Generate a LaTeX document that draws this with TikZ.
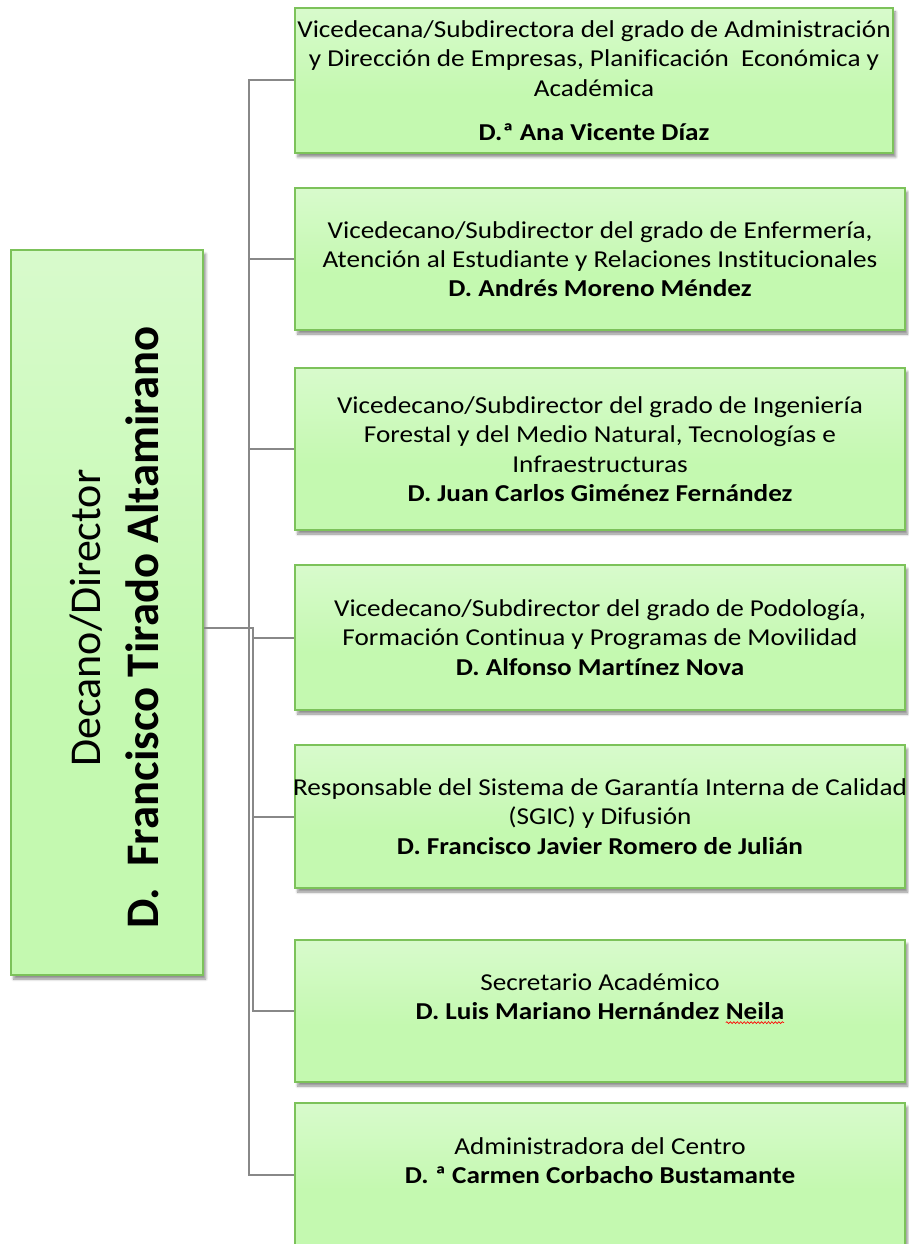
\documentclass[tikz,border=0pt]{standalone}
\usepackage{fontspec}
\setmainfont[Ligatures=NoCommon]{Carlito}
\newfontfamily\boxfont[Ligatures=NoCommon, FakeStretch=1.12]{Carlito}
\usetikzlibrary{shadows.blur,calc,decorations.pathmorphing}
\definecolor{gT}{HTML}{E8FBE3}
\definecolor{gB}{HTML}{C4F9B0}
\definecolor{gBorder}{HTML}{7CC25A}
\definecolor{lineg}{HTML}{888888}
\pgfdeclareverticalshading{boxshade}{100bp}{color(0bp)=(gB); color(45bp)=(gB); color(100bp)=(gT)}
\newcommand\spellerr[1]{\tikz[baseline=(w.base)]{\node[inner sep=0pt, outer sep=0pt, anchor=base] (w) at (0,0) {#1};
  \draw[red, line width=0.5pt, decorate, decoration={snake, amplitude=0.7pt, segment length=2.6pt}] ([yshift=-2.4pt]w.base west) -- ([yshift=-2.4pt]w.base east);}}
\begin{document}
\begin{tikzpicture}[x=0.75pt,y=-0.75pt,
  box/.style={draw=gBorder, line width=1.5pt, shading=boxshade, inner sep=0pt,
    blur shadow={shadow xshift=2pt, shadow yshift=-3pt, shadow blur steps=6, shadow opacity=45}},
  txt/.style={align=center, inner sep=0pt, font=\boxfont\fontsize{18.2}{22}\selectfont},
  conn/.style={draw=lineg, line width=1.5pt}]
\useasboundingbox (0,0) rectangle (908,1244);
% boxes
\node[box, minimum width=144pt, minimum height=543.75pt] (main) at (107,612.5) {};
\node[box, minimum width=448.5pt, minimum height=108.75pt] (b1) at (594,80.5) {};
\node[box, minimum width=457.5pt, minimum height=106.5pt] (b2) at (600,259) {};
\node[box, minimum width=457.5pt, minimum height=121.5pt] (b3) at (600,449) {};
\node[box, minimum width=457.5pt, minimum height=108.75pt] (b4) at (600,637.5) {};
\node[box, minimum width=457.5pt, minimum height=107.25pt] (b5) at (600,816.5) {};
\node[box, minimum width=457.5pt, minimum height=106.5pt] (b6) at (600,1011) {};
\node[box, minimum width=457.5pt, minimum height=108pt] (b7) at (600,1175) {};
% texts
\node[rotate=90, anchor=base, inner sep=0pt, font=\fontsize{33}{38}\selectfont] (t0a) at (100,618) {Decano/Director};
\node[rotate=90, anchor=base, inner sep=0pt, font=\bfseries\fontsize{35}{40}\selectfont] (t0b) at (158,627.5) {D.\ \ Francisco Tirado Altamirano};
\node[txt] (t1) at (b1.center) {Vicedecana/Subdirectora del grado de Administración\\ y Dirección de Empresas, Planificación\ \ Económica y\\ Académica\\[11pt] \textbf{D.ª Ana Vicente Díaz}};
\node[txt] (t2) at (b2.center) {Vicedecano/Subdirector del grado de Enfermería,\\ Atención al Estudiante y Relaciones Institucionales\\ \textbf{D. Andrés Moreno Méndez}};
\node[txt] (t3) at (b3.center) {Vicedecano/Subdirector del grado de Ingeniería\\ Forestal y del Medio Natural, Tecnologías e\\ Infraestructuras\\ \textbf{D. Juan Carlos Giménez Fernández}};
\node[txt] (t4) at (b4.center) {Vicedecano/Subdirector del grado de Podología,\\ Formación Continua y Programas de Movilidad\\ \textbf{D. Alfonso Martínez Nova}};
\node[txt] (t5) at (b5.center) {Responsable del Sistema de Garantía Interna de Calidad\\ (SGIC) y Difusión\\ \textbf{D. Francisco Javier Romero de Julián}};
\node[txt] (t6) at (b6.center) {Secretario Académico\\ \textbf{D. Luis Mariano Hernández \spellerr{Neila}}\\ \mbox{}};
\node[txt] (t7) at (b7.center) {Administradora del Centro\\ \textbf{D. ª Carmen Corbacho Bustamante}\\ \mbox{}};
% connectors
\coordinate (ja) at (249,628);
\coordinate (jb) at (253,628);
\coordinate (src) at ($(main.east)+(0,15.5)$);
\foreach \b in {b1,b2,b3,b7}{
  \draw[conn] (src) -- (ja) |- (\b.west);
}
\foreach \b in {b4,b5,b6}{
  \draw[conn] (src) -- (jb) |- (\b.west);
}
\end{tikzpicture}
\end{document}
